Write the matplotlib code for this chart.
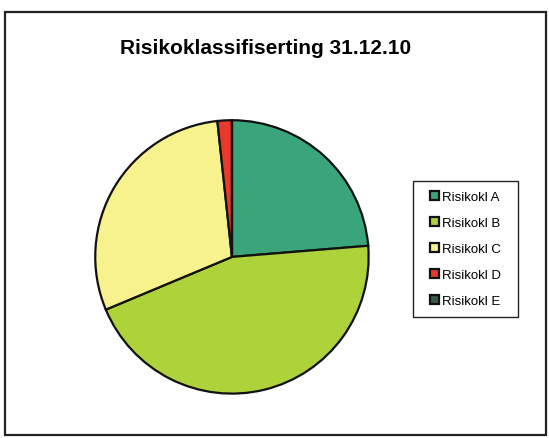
import matplotlib.pyplot as plt
from matplotlib.patches import Rectangle

plt.rcParams["font.family"] = ["Liberation Sans", "DejaVu Sans"]

labels = ["Risikokl A", "Risikokl B", "Risikokl C", "Risikokl D", "Risikokl E"]
shares = [23.7, 45.0, 29.6, 1.7, 0.0]
colors = ["#3aa57a", "#aed23a", "#f8f28e", "#e8392c", "#3c5a4a"]

fig = plt.figure(figsize=(5.49, 4.39), dpi=100)

# outer chart frame
fig.patches.append(Rectangle((5 / 549, 3 / 439), 541 / 549, 423 / 439,
                             transform=fig.transFigure, fill=False,
                             edgecolor="#222222", linewidth=1.6))

ax = fig.add_axes([0.171, 0.098, 0.503, 0.629])
wedges, _ = ax.pie(shares, colors=colors, startangle=90, counterclock=False,
                   wedgeprops=dict(edgecolor="#111111", linewidth=1.6))
ax.set_xlim(-1.01, 1.01)
ax.set_ylim(-1.01, 1.01)
ax.set_aspect("equal")

fig.text(0.483, 0.889, "Risikoklassifiserting 31.12.10", ha="center", va="center",
         fontsize=15, fontweight="bold")

# legend box drawn by hand so its width can be wider than the text
fig.patches.append(Rectangle((413 / 549, 1 - 318 / 439), 105 / 549, 136 / 439,
                             transform=fig.transFigure, fill=True, facecolor="white",
                             edgecolor="#222222", linewidth=1.0))
leg = fig.legend(wedges, labels, loc="center", bbox_to_anchor=(0.848, 0.4305),
                 fontsize=9.5, labelspacing=1.05, handlelength=0.7, handleheight=0.7,
                 handletextpad=0.2, frameon=False)

fig.savefig("out.png", dpi=100)
